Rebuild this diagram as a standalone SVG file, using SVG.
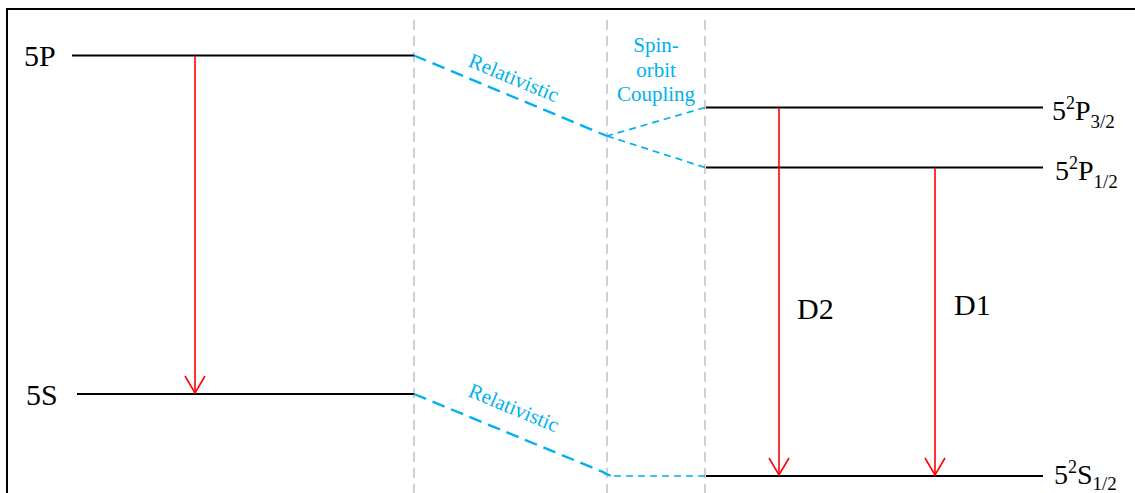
<svg xmlns="http://www.w3.org/2000/svg" width="1135" height="493" viewBox="0 0 1135 493">
  <style>
    .frame { fill: none; stroke: #000; stroke-width: 2; }
    .divider { fill: none; stroke: #d0d0d0; stroke-width: 2; stroke-dasharray: 10 6; }
    .level { fill: none; stroke: #000; stroke-width: 1.8; }
    .trans { fill: none; stroke: #ff0000; stroke-width: 1.6; }
    .rel { fill: none; stroke: #00b0f0; stroke-width: 2.4; stroke-dasharray: 13 7; }
    .so { fill: none; stroke: #00b0f0; stroke-width: 1.7; stroke-dasharray: 7 5; }
    .lbl { font-family: "Liberation Serif", "Times New Roman", serif; fill: #000; }
    .big { font-size: 30px; }
    .term { font-size: 28px; }
    .blue { font-family: "Liberation Serif", "Times New Roman", serif; fill: #00b0f0; font-size: 21px; }
  </style>
  <defs>
    <marker id="arrow" markerUnits="userSpaceOnUse" markerWidth="40" markerHeight="40" viewBox="-20 -20 40 40" refX="0" refY="0" orient="auto">
      <path d="M -17 -10 L 0 0 L -17 10" fill="none" stroke="#ff0000" stroke-width="1.6"/>
    </marker>
  </defs>

  <rect class="frame" x="7" y="9" width="1140" height="500"/>

  <!-- column separators -->
  <g id="dividers">
    <line class="divider" x1="414" y1="20" x2="414" y2="493"/>
    <line class="divider" x1="607" y1="20" x2="607" y2="493"/>
    <line class="divider" x1="705" y1="20" x2="705" y2="493"/>
  </g>

  <!-- non-relativistic levels -->
  <g id="level-5P">
    <line class="level" x1="72" y1="55.5" x2="414" y2="55.5"/>
    <text class="lbl big" x="24" y="66">5P</text>
  </g>
  <g id="level-5S">
    <line class="level" x1="77" y1="394" x2="414" y2="394"/>
    <text class="lbl big" x="26" y="405">5S</text>
  </g>

  <!-- fine-structure levels -->
  <g id="level-5P32">
    <line class="level" x1="706" y1="107.5" x2="1043" y2="107.5"/>
    <text class="lbl term" x="1052" y="120">5<tspan font-size="18" dy="-11">2</tspan><tspan dy="11">P</tspan><tspan font-size="19" dy="8">3/2</tspan></text>
  </g>
  <g id="level-5P12">
    <line class="level" x1="706" y1="167.5" x2="1043" y2="167.5"/>
    <text class="lbl term" x="1055" y="180">5<tspan font-size="18" dy="-11">2</tspan><tspan dy="11">P</tspan><tspan font-size="19" dy="8">1/2</tspan></text>
  </g>
  <g id="level-5S12">
    <line class="level" x1="706" y1="476" x2="1043" y2="476"/>
    <text class="lbl term" x="1054" y="484">5<tspan font-size="18" dy="-11">2</tspan><tspan dy="11">S</tspan><tspan font-size="19" dy="6">1/2</tspan></text>
  </g>

  <!-- shifts and splittings -->
  <g id="connectors">
    <line class="rel" x1="414" y1="55.5" x2="607" y2="136"/>
    <path class="rel" d="M 414 394 L 603 472 Q 608 476 614 476"/>
    <line class="so" x1="614" y1="476" x2="705" y2="476"/>
    <line class="so" x1="705" y1="107.5" x2="607" y2="136"/>
    <line class="so" x1="607" y1="136" x2="705" y2="167.5"/>

    <line class="trans" x1="195" y1="56" x2="195" y2="393" marker-end="url(#arrow)"/>
    <line class="trans" x1="779" y1="108" x2="779" y2="475" marker-end="url(#arrow)"/>
    <line class="trans" x1="935" y1="168" x2="935" y2="475" marker-end="url(#arrow)"/>
  </g>

  <!-- connector labels -->
  <g id="labels">
    <text class="blue" transform="translate(467 66) rotate(22.5)">Relativistic</text>
    <text class="blue" transform="translate(467 396) rotate(22.5)">Relativistic</text>
    <text class="blue" text-anchor="middle" x="656" y="52">Spin-</text>
    <text class="blue" text-anchor="middle" x="656" y="77">orbit</text>
    <text class="blue" text-anchor="middle" x="656" y="101">Coupling</text>
    <text class="lbl big" x="797" y="319">D2</text>
    <text class="lbl big" x="954" y="315">D1</text>
  </g>
</svg>
